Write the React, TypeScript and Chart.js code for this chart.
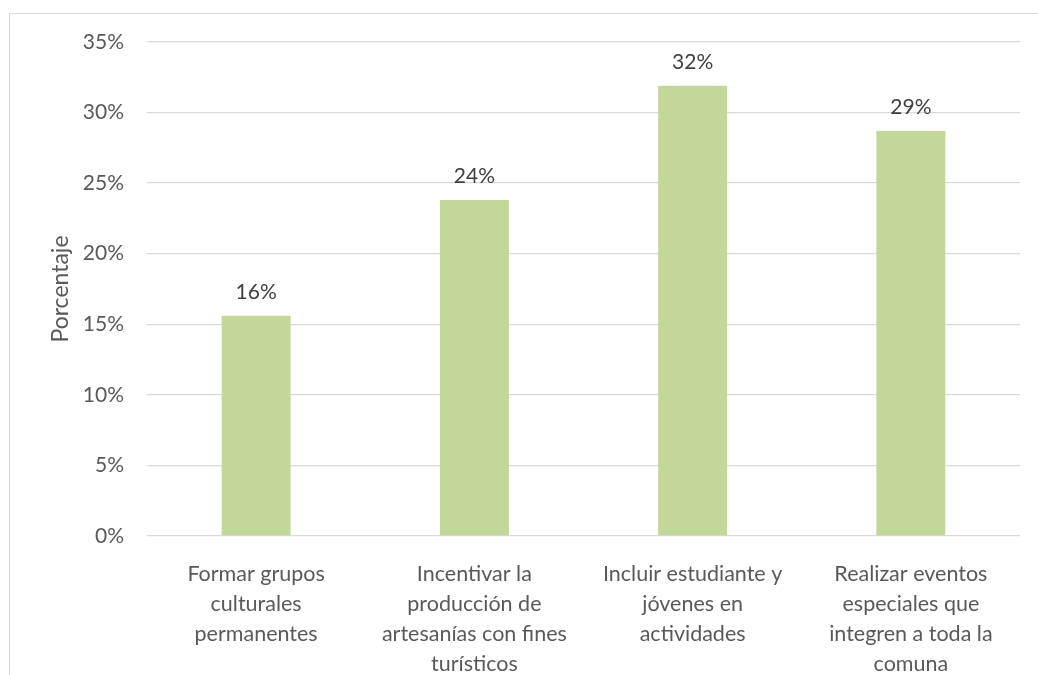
import React, { useEffect, useRef } from "react";
import { Chart, registerables } from "chart.js";

Chart.register(...registerables);

const categories: string[][] = [
  ["Formar grupos", "culturales", "permanentes"],
  ["Incentivar la", "producción de", "artesanías con fines", "turísticos"],
  ["Incluir estudiante y", "jóvenes en", "actividades"],
  ["Realizar eventos", "especiales que", "integren a toda la", "comuna"],
];
const values: number[] = [15.6, 23.8, 31.9, 28.7];
const dataLabels: string[] = ["16%", "24%", "32%", "29%"];
const yTicks: number[] = [0, 5, 10, 15, 20, 25, 30, 35];
const yTitle = "Porcentaje";

const FONT = "Lato, 'Open Sans', sans-serif";
const TEXT = "#595959";
const GRID = "#D9D9D9";

const labelPlugin = {
  id: "barLabels",
  afterDatasetsDraw(chart: any) {
    const ctx = chart.ctx;
    const meta = chart.getDatasetMeta(0);
    ctx.save();
    ctx.font = `21px ${FONT}`;
    ctx.fillStyle = "#404040";
    ctx.textAlign = "center";
    ctx.textBaseline = "middle";
    meta.data.forEach((bar: any, i: number) => {
      ctx.fillText(dataLabels[i], bar.x, bar.y - 24);
    });
    ctx.restore();
  },
};

export default function App() {
  const ref = useRef<HTMLCanvasElement>(null);
  useEffect(() => {
    if (!ref.current) return;
    const chart = new Chart(ref.current, {
      type: "bar",
      data: {
        labels: categories,
        datasets: [
          {
            data: values,
            backgroundColor: "#C4D79B",
            borderWidth: 0,
            barPercentage: 0.316,
            categoryPercentage: 1,
          },
        ],
      },
      options: {
        animation: false,
        responsive: false,
        devicePixelRatio: 1,
        layout: { padding: { left: 30, right: 18, top: 42, bottom: 0 } },
        plugins: { legend: { display: false }, tooltip: { enabled: false } },
        scales: {
          x: {
            grid: { display: false },
            border: { display: false },
            ticks: {
              color: TEXT,
              padding: 15,
              maxRotation: 0,
              autoSkip: false,
              font: { family: FONT, size: 21.5, lineHeight: "30px" as any },
            },
            afterFit: (s: any) => {
              s.height = 139;
            },
          },
          y: {
            min: 0,
            max: 35,
            afterBuildTicks: (s: any) => {
              s.ticks = yTicks.map((v) => ({ value: v }));
            },
            grid: { color: GRID, lineWidth: 1.3, drawTicks: false },
            border: { display: false },
            ticks: {
              color: TEXT,
              padding: 23,
              font: { family: FONT, size: 21 },
              callback: (v: any) => `${v}%`,
            },
            title: {
              display: true,
              text: yTitle,
              color: TEXT,
              font: { family: FONT, size: 23, lineHeight: 1.2 },
              padding: { top: 17, bottom: 0 },
            },
            afterFit: (s: any) => {
              s.width = 117;
            },
          },
        },
      },
      plugins: [labelPlugin],
    });
    return () => chart.destroy();
  }, []);
  return (
    <div style={{ position: "fixed", left: 0, top: 0, width: 1038, height: 675, background: "#fff" }}>
      <div
        style={{
          position: "absolute",
          left: 9,
          top: 13,
          width: 1100,
          height: 700,
          borderLeft: `1px solid ${GRID}`,
          borderTop: `1px solid ${GRID}`,
        }}
      />
      <canvas ref={ref} width={1038} height={675} style={{ position: "absolute", left: 0, top: 0 }} />
    </div>
  );
}
